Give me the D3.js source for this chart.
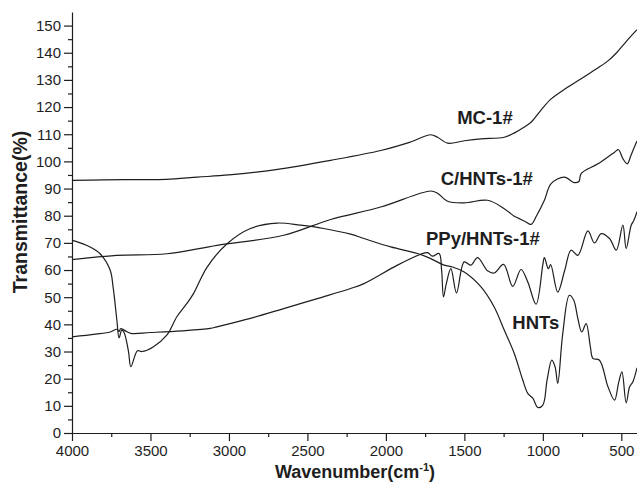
<!DOCTYPE html>
<html>
<head>
<meta charset="utf-8">
<script src="https://cdn.jsdelivr.net/npm/d3@7"></script>
<style>
  body { margin: 0; background: #fff; }
  svg { display: block; font-family: "Liberation Sans", Arial, sans-serif; }
</style>
</head>
<body>
<div id="chart"></div>
<script>
// FTIR spectra, [wavenumber cm-1, transmittance %]
const mc1 = [
    [4000, 93], [3800, 93.2], [3600, 93.3], [3400, 93.4], [3200, 94.2], [3000, 95],
    [2700, 97], [2352, 100.4], [2033, 104], [1850, 107], [1714, 109.8], [1671, 108.9],
    [1607, 106.7], [1500, 107.6], [1394, 108.3], [1246, 108.9], [1180, 110.5], [1120, 112.6],
    [1075, 114.4], [1010, 119], [947, 123], [850, 127], [756, 130.4], [660, 134],
    [583, 137.1], [530, 140], [481, 143.3], [440, 146], [400, 148.5]
];

const cHnts = [
    [4000, 63.8], [3714, 65.4], [3396, 66], [3076, 69.1], [2651, 72.8], [2352, 78.6],
    [2033, 83.2], [1714, 89.1], [1671, 88.3], [1607, 85.3], [1501, 84.7], [1352, 85.7],
    [1246, 82.6], [1182, 79.8], [1160, 79.2], [1110, 77.8], [1075, 76.8], [1040, 80],
    [990, 85.7], [947, 91.8], [863, 94.2], [800, 92.2], [770, 92.6], [756, 95.5], [649, 99.1],
    [543, 103.4], [518, 104.3], [490, 101], [462, 99.1], [440, 102], [426, 104], [400, 107.5]
];

const ppyHnts = [
    [4000, 35.4], [3850, 36.4], [3757, 37.2], [3715, 38.2], [3700, 37.4], [3690, 38.4],
    [3660, 37.6], [3625, 36.7], [3502, 37], [3300, 37.6], [3119, 38.5], [3076, 39.1],
    [2863, 42.2], [2651, 45.8], [2437, 49.5], [2225, 53.2], [2140, 55], [1926, 61.8],
    [1778, 65.8], [1735, 66.4], [1703, 65.1], [1661, 66.1], [1645, 60], [1633, 50.1],
    [1615, 55], [1586, 60.5], [1550, 51.6], [1501, 63], [1458, 61.8], [1416, 64.6],
    [1352, 59.7], [1310, 58.9], [1250, 62.1], [1192, 54], [1139, 60.2], [1096, 55.6],
    [1043, 47.4], [1000, 62], [990, 64.6], [965, 60.5], [950, 62], [905, 51.9],
    [860, 60], [820, 67.3], [777, 65.4], [713, 74.4], [671, 70], [628, 73.4],
    [575, 71.6], [532, 67.3], [490, 76.5], [469, 67.9], [437, 76.5], [420, 78.3], [400, 81.5]
];

const hnts = [
    [4000, 71], [3885, 68.5], [3821, 66], [3757, 60], [3738, 53.7], [3714, 41.5],
    [3700, 35], [3683, 37.9], [3668, 37], [3640, 30], [3625, 24.4], [3583, 30.3],
    [3555, 30], [3483, 31.7], [3396, 36], [3332, 42.8], [3268, 47.7], [3225, 51.4],
    [3140, 61], [3012, 69.7], [2863, 75.3], [2693, 77.3], [2544, 76.5], [2397, 75.3],
    [2225, 73.2], [2140, 71.6], [1969, 68.5], [1799, 66.1], [1714, 64.2], [1629, 61.8],
    [1575, 61.1], [1501, 59.3], [1394, 53.8], [1310, 46.4], [1246, 37.9], [1182, 29.3],
    [1128, 19.5], [1096, 14.6], [1064, 12.8], [1032, 9.4], [1000, 10.3], [973, 19.5],
    [943, 26.8], [922, 24.4], [905, 18.3], [873, 36.7], [831, 50.7], [803, 48.9],
    [777, 42.2], [752, 37.2], [724, 40.3], [697, 31.7], [681, 27.5], [639, 26.8],
    [585, 17], [543, 12.1], [518, 18.3], [496, 22.5], [469, 11.1], [447, 17],
    [426, 18.9], [400, 24]
];

const seriesLabels = [
    { text: 'MC-1#', wn: 1369, t: 113.6 },
    { text: 'C/HNTs-1#', wn: 1357, t: 91.3 },
    { text: 'PPy/HNTs-1#', wn: 1382, t: 69.2 },
    { text: 'HNTs', wn: 1045, t: 38.3 }
];

const xTicks = [4000, 3500, 3000, 2500, 2000, 1500, 1000, 500];
const yTicks = d3.range(0, 151, 10);

const width = 637, height = 483;
const margin = { top: 12, right: 0, bottom: 50, left: 72 };

const svg = d3.select('#chart').append('svg')
    .attr('width', width)
    .attr('height', height);

const x = d3.scaleLinear()
    .domain([4000, 400])
    .range([margin.left, width - margin.right]);

const y = d3.scaleLinear()
    .domain([0, 155])
    .range([height - margin.bottom, margin.top]);

const ink = '#1e1e1e';

// spectra
const line = d3.line()
    .x(d => x(d[0]))
    .y(d => y(d[1]))
    .curve(d3.curveCatmullRom.alpha(0.5));

[mc1, cHnts, ppyHnts, hnts].forEach(s => {
    svg.append('path')
        .datum(s)
        .attr('d', line)
        .attr('fill', 'none')
        .attr('stroke', ink)
        .attr('stroke-width', 1.2)
        .attr('stroke-linejoin', 'round');
});

// x axis
const xAxis = svg.append('g')
    .attr('transform', `translate(0,${y(0)})`)
    .call(d3.axisBottom(x)
        .tickValues(xTicks)
        .tickSize(8)
        .tickSizeOuter(0)
        .tickPadding(4)
        .tickFormat(d3.format('d')));

svg.append('g')
    .attr('transform', `translate(0,${y(0)})`)
    .call(d3.axisBottom(x)
        .tickValues(d3.range(3750, 400, -500))
        .tickSize(4)
        .tickSizeOuter(0)
        .tickFormat(''))
    .call(g => g.select('.domain').remove());

// y axis
const yAxis = svg.append('g')
    .attr('transform', `translate(${x(4000)},0)`)
    .call(d3.axisLeft(y)
        .tickValues(yTicks)
        .tickSize(8)
        .tickSizeOuter(0)
        .tickPadding(3));

svg.append('g')
    .attr('transform', `translate(${x(4000)},0)`)
    .call(d3.axisLeft(y)
        .tickValues(d3.range(5, 155, 10))
        .tickSize(4)
        .tickSizeOuter(0)
        .tickFormat(''))
    .call(g => g.select('.domain').remove());

svg.selectAll('.domain, .tick line')
    .attr('stroke', ink)
    .attr('stroke-width', 1.2);

[xAxis, yAxis].forEach(a => a.selectAll('text')
    .style('font-size', '15px')
    .style('fill', ink)
    .style('font-family', '"Liberation Sans", Arial, sans-serif'));

// axis titles
svg.append('text')
    .attr('transform', 'translate(22,212) rotate(-90)')
    .attr('text-anchor', 'middle')
    .attr('dominant-baseline', 'middle')
    .style('font-size', '19.5px')
    .style('font-weight', '700')
    .style('fill', ink)
    .text('Transmittance(%)');

const xTitle = svg.append('text')
    .attr('x', 355)
    .attr('y', 478)
    .attr('text-anchor', 'middle')
    .style('font-size', '18px')
    .style('font-weight', '700')
    .style('fill', ink);
xTitle.append('tspan').text('Wavenumber(cm');
xTitle.append('tspan').attr('dy', -7).style('font-size', '11px').text('-1');
xTitle.append('tspan').attr('dy', 7).text(')');

// curve labels
svg.selectAll('.series-label')
    .data(seriesLabels)
    .enter()
    .append('text')
    .attr('class', 'series-label')
    .attr('x', d => x(d.wn))
    .attr('y', d => y(d.t))
    .attr('text-anchor', 'middle')
    .style('font-size', '18.5px')
    .style('font-weight', '700')
    .style('fill', ink)
    .text(d => d.text);
</script>
</body>
</html>
